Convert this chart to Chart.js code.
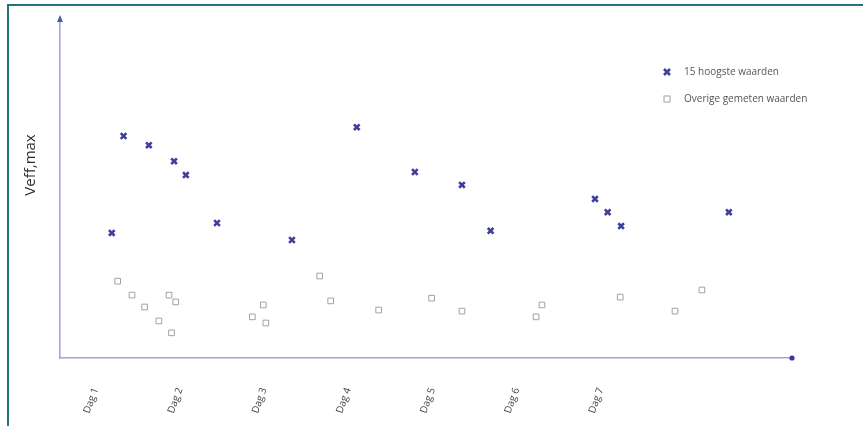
<!DOCTYPE html>
<html>
<head>
<meta charset="utf-8">
<script src="https://cdn.jsdelivr.net/npm/chart.js@4"></script>
<style>
html,body{margin:0;padding:0;background:#fff;}
#wrap{width:863px;height:426px;position:relative;}
</style>
</head>
<body>
<div id="wrap"><canvas id="c" width="863" height="426"></canvas></div>
<script>
// Tick labels (one per day)
const dayLabels = ['Dag 1','Dag 2','Dag 3','Dag 4','Dag 5','Dag 6','Dag 7'];
const dayTicks = [1,2,3,4,5,6,7];

// Series: 15 highest values (x in days, y in arbitrary units)
const topX = [1.19,1.33,1.63,1.93,2.07,2.44,3.33,4.10,4.79,5.35,5.69,6.93,7.08,7.24,8.52];
const topY = [36.8,65.3,62.6,57.9,53.8,39.7,34.7,67.9,54.7,50.9,37.4,46.8,42.9,38.8,42.9];

// Series: other measured values
const otherX = [1.26,1.43,1.58,1.75,1.87,1.95,1.90,2.86,2.99,3.02,3.66,3.79,4.36,4.99,5.35,6.30,6.23,7.23,7.88,8.20];
const otherY = [22.6,18.5,15.0,10.9,18.5,16.5,7.4,12.1,15.6,10.3,24.1,16.8,14.1,17.6,13.8,15.6,12.1,17.9,13.8,20.0];

const seriesNames = ['15 hoogste waarden','Overige gemeten waarden'];
const yTitle = 'Veff,max';

const toPts = (xs, ys) => xs.map((x, i) => ({x: x, y: ys[i]}));

const AXIS = '#a3a3ea';
const BLUE = '#3f3f9e';
const GREY = '#a2a2a2';

const decor = {
  id: 'decor',
  beforeDraw(chart) {
    const ctx = chart.ctx;
    ctx.save();
    ctx.fillStyle = '#fff';
    ctx.fillRect(0, 0, chart.width, chart.height);
    ctx.strokeStyle = '#237377';
    ctx.lineWidth = 2;
    ctx.beginPath();
    ctx.moveTo(8, 426);
    ctx.lineTo(8, 5);
    ctx.lineTo(863, 5);
    ctx.stroke();
    ctx.restore();
  },
  afterDraw(chart) {
    const ctx = chart.ctx;
    const a = chart.chartArea;
    ctx.save();
    // y axis arrow head
    ctx.fillStyle = '#4a5ab4';
    ctx.beginPath();
    ctx.moveTo(a.left, a.top - 3);
    ctx.lineTo(a.left - 3, a.top + 4);
    ctx.lineTo(a.left + 3, a.top + 4);
    ctx.closePath();
    ctx.fill();
    // x axis end dot
    ctx.fillStyle = '#3a3a90';
    ctx.beginPath();
    ctx.arc(a.right, a.bottom, 2.6, 0, Math.PI * 2);
    ctx.fill();
    // y title
    ctx.fillStyle = '#2b2b2b';
    ctx.font = '15px "Open Sans", sans-serif';
    ctx.textAlign = 'center';
    ctx.textBaseline = 'middle';
    ctx.translate(31, 165);
    ctx.rotate(-Math.PI / 2);
    ctx.fillText(yTitle, 0, 0);
    ctx.restore();

    // legend
    ctx.save();
    const lx = 667, ly = [72, 99];
    ctx.font = '10px "Open Sans", sans-serif';
    ctx.textBaseline = 'middle';
    ctx.textAlign = 'left';
    ctx.fillStyle = '#555';
    ctx.strokeStyle = BLUE;
    ctx.lineWidth = 2.6;
    ctx.beginPath();
    ctx.moveTo(lx - 3, ly[0] - 3); ctx.lineTo(lx + 3, ly[0] + 3);
    ctx.moveTo(lx + 3, ly[0] - 3); ctx.lineTo(lx - 3, ly[0] + 3);
    ctx.stroke();
    ctx.fillText(seriesNames[0], 684, ly[0]);
    ctx.strokeStyle = GREY;
    ctx.lineWidth = 1;
    ctx.strokeRect(lx - 3, ly[1] - 3, 6, 6);
    ctx.fillText(seriesNames[1], 684, ly[1]);
    ctx.restore();
  }
};

new Chart(document.getElementById('c'), {
  type: 'scatter',
  data: {
    datasets: [
      {
        label: seriesNames[0],
        data: toPts(topX, topY),
        pointStyle: 'crossRot',
        radius: 4,
        borderWidth: 2.6,
        borderColor: BLUE,
        backgroundColor: BLUE
      },
      {
        label: seriesNames[1],
        data: toPts(otherX, otherY),
        pointStyle: 'rect',
        radius: 4,
        borderWidth: 1,
        borderColor: GREY,
        backgroundColor: '#fff'
      }
    ]
  },
  options: {
    responsive: false,
    animation: false,
    devicePixelRatio: 1,
    layout: {padding: {left: 0, right: 71, top: 18, bottom: 0}},
    plugins: {legend: {display: false}, tooltip: {enabled: false}},
    scales: {
      x: {
        type: 'linear',
        min: 0.575,
        max: 9.27,
        afterBuildTicks(scale) { scale.ticks = dayTicks.map(v => ({value: v})); },
        afterFit(scale) { scale.height = 68; },
        grid: {display: false, drawTicks: false},
        border: {display: true, color: AXIS, width: 1.6},
        ticks: {
          autoSkip: false,
          minRotation: 70,
          maxRotation: 70,
          padding: 28,
          color: '#444',
          font: {family: '"Open Sans", sans-serif', size: 10},
          callback: (v) => dayLabels[dayTicks.indexOf(v)] || ''
        }
      },
      y: {
        type: 'linear',
        min: 0,
        max: 100,
        afterFit(scale) { scale.width = 60; },
        grid: {display: false, drawTicks: false},
        border: {display: true, color: AXIS, width: 1.6},
        ticks: {display: false}
      }
    }
  },
  plugins: [decor]
});
</script>
</body>
</html>
